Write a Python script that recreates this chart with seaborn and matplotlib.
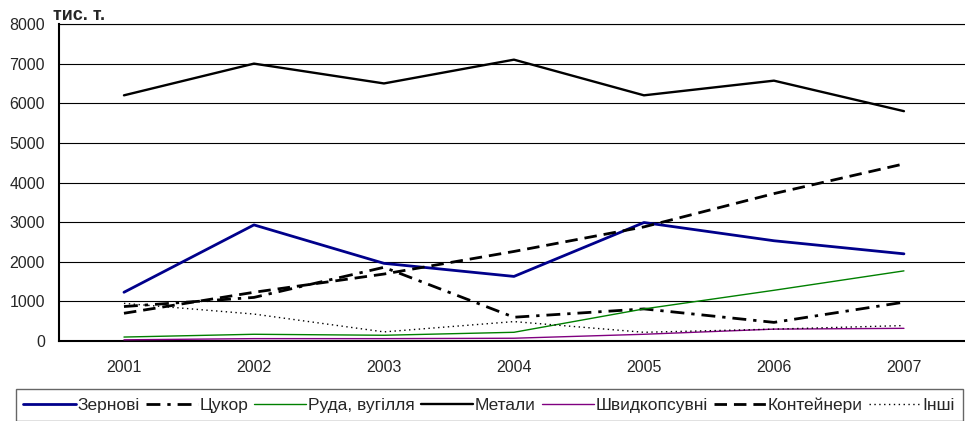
import matplotlib
matplotlib.use("Agg")
import matplotlib.pyplot as plt
import seaborn as sns
import pandas as pd
from matplotlib.lines import Line2D

years = ["2001", "2002", "2003", "2004", "2005", "2006", "2007"]
zernovi = [1230, 2930, 1960, 1630, 2990, 2530, 2200]
tsukor = [870, 1100, 1860, 600, 810, 470, 980]
ruda = [100, 170, 145, 220, 810, 1280, 1770]
metaly = [6200, 7000, 6500, 7100, 6200, 6570, 5800]
shvydko = [30, 60, 60, 70, 170, 300, 320]
konteinery = [700, 1230, 1690, 2260, 2880, 3720, 4470]
inshi = [950, 680, 230, 490, 220, 300, 390]

series_names = ["Зернові", "Цукор", "Руда, вугілля", "Метали", "Швидкопсувні", "Контейнери", "Інші"]
series_values = [zernovi, tsukor, ruda, metaly, shvydko, konteinery, inshi]

styles = {
    "Зернові": dict(color="#00008B", lw=2.0, dashes=None),
    "Цукор": dict(color="black", lw=2.0, dashes=(5, 2.5, 1.2, 2.5)),
    "Руда, вугілля": dict(color="#008000", lw=1.0, dashes=None),
    "Метали": dict(color="black", lw=1.7, dashes=None),
    "Швидкопсувні": dict(color="#800080", lw=1.0, dashes=None),
    "Контейнери": dict(color="black", lw=2.0, dashes=(4.5, 2.5)),
    "Інші": dict(color="black", lw=1.0, dashes=(1, 2.5)),
}

sns.set_theme(style="white")
plt.rcParams["font.family"] = ["Liberation Sans", "DejaVu Sans"]

fig = plt.figure(figsize=(9.65, 4.21), dpi=100)
ax = fig.add_axes([0.0611, 0.190, 0.943, 0.753])

rows = []
for name, vals in zip(series_names, series_values):
    for i, (y, v) in enumerate(zip(years, vals)):
        rows.append({"pos": i, "year": y, "value": v, "series": name})
df = pd.DataFrame(rows)

handles = []
for name in series_names:
    st = styles[name]
    sub = df[df["series"] == name]
    sns.lineplot(data=sub, x="pos", y="value", ax=ax, color=st["color"],
                 linewidth=st["lw"], legend=False, zorder=3)
    line = ax.lines[-1]
    if st["dashes"] is not None:
        line.set_dashes(st["dashes"])
    h = Line2D([0], [0], color=st["color"], lw=st["lw"])
    if st["dashes"] is not None:
        h.set_dashes(st["dashes"])
    handles.append(h)

ax.set_xlim(-0.5, 6.5)
ax.set_ylim(0, 8000)
ax.set_yticks(range(0, 8001, 1000))
ax.set_yticklabels([str(v) for v in range(0, 8001, 1000)], fontsize=11.5)
ax.set_xticks([i for i in range(7)])
ax.set_xticklabels(years, fontsize=11.5)
ax.set_xticks([i - 0.5 for i in range(8)], minor=True)
ax.tick_params(axis="x", which="major", length=0, pad=14)
ax.tick_params(axis="x", which="minor", length=5, width=1, color="black", direction="out")
ax.tick_params(axis="y", length=6, width=1, color="black", direction="out", pad=4)
ax.yaxis.grid(True, color="black", linewidth=0.8)
ax.set_axisbelow(True)
ax.set_xlabel("")
ax.set_ylabel("")
ax.spines["right"].set_visible(False)
ax.spines["top"].set_color("black")
ax.spines["top"].set_linewidth(0.8)
ax.spines["left"].set_color("black")
ax.spines["left"].set_linewidth(1.5)
ax.spines["bottom"].set_color("black")
ax.spines["bottom"].set_linewidth(1.5)

fig.text(0.055, 0.9525, "тис. т.", fontsize=13, fontweight="bold", ha="left", va="baseline")

leg = fig.legend(handles, series_names, loc="center", bbox_to_anchor=(0.507, 0.038), ncol=7,
                 frameon=True, fontsize=12.5, handlelength=3.0, handletextpad=0.1,
                 columnspacing=0.35, borderpad=0.45, borderaxespad=0, fancybox=False)
leg.get_frame().set_edgecolor("#404040")
leg.get_frame().set_linewidth(1.0)

fig.savefig("out.png", dpi=100)
